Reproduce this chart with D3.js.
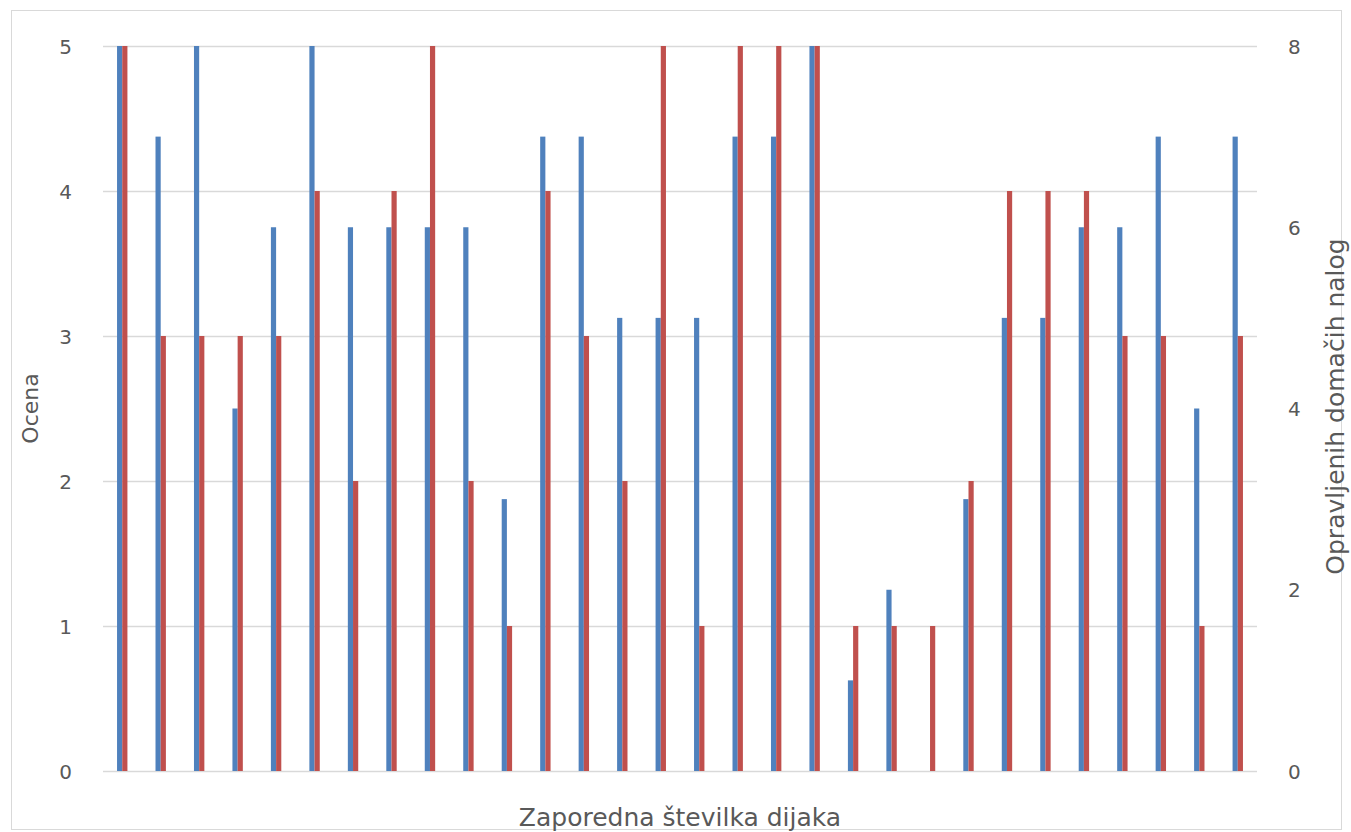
<!DOCTYPE html>
<html>
<head>
<meta charset="utf-8">
<script src="https://cdn.jsdelivr.net/npm/d3@7"></script>
<style>
  body { margin: 0; background: #fff; }
  svg { display: block; }
  text { font-family: "DejaVu Sans", "Open Sans", sans-serif; fill: #595959; }
</style>
</head>
<body>
<svg id="chart" width="1351" height="832"></svg>
<script>
// Data
const students = d3.range(1, 31).map(String);
const homework = [8, 7, 8, 4, 6, 8, 6, 6, 6, 6, 3, 7, 7, 5, 5, 5, 7, 7, 8, 1, 2, 0, 3, 5, 5, 6, 6, 7, 4, 7];
const grades   = [5, 3, 3, 3, 3, 4, 2, 4, 5, 2, 1, 4, 3, 2, 5, 1, 5, 5, 5, 1, 1, 1, 2, 4, 4, 4, 3, 3, 1, 3];
const leftTicks = [0, 1, 2, 3, 4, 5];
const rightTicks = [0, 2, 4, 6, 8];
const leftTitle = "Ocena";
const rightTitle = "Opravljenih domačih nalog";
const xTitle = "Zaporedna številka dijaka";

const svg = d3.select("#chart");
const plot = { left: 103, right: 1257, top: 46, bottom: 771 };

// chart border
svg.append("rect")
  .attr("x", 11.5).attr("y", 10.5)
  .attr("width", 1330).attr("height", 819)
  .attr("fill", "#fff").attr("stroke", "#d9d9d9").attr("stroke-width", 1);

const x = d3.scaleBand().domain(students).range([plot.left, plot.right]).padding(0);
const yL = d3.scaleLinear().domain([0, 5]).range([plot.bottom, plot.top]);
const yR = d3.scaleLinear().domain([0, 8]).range([plot.bottom, plot.top]);
const bw = x.bandwidth() * 0.135;

// gridlines
svg.append("g").selectAll("line").data(leftTicks).join("line")
  .attr("x1", plot.left).attr("x2", plot.right)
  .attr("y1", d => Math.round(yL(d)) + 0.5).attr("y2", d => Math.round(yL(d)) + 0.5)
  .attr("stroke", "#d9d9d9").attr("stroke-width", 1.5);

// blue bars (homework, right axis)
svg.append("g").selectAll("rect").data(homework).join("rect")
  .attr("x", (d, i) => x(students[i]) + x.bandwidth() / 2 - bw)
  .attr("width", bw)
  .attr("y", d => yR(d))
  .attr("height", d => plot.bottom - yR(d))
  .attr("fill", "#4f81bd");

// red bars (grade, left axis)
svg.append("g").selectAll("rect").data(grades).join("rect")
  .attr("x", (d, i) => x(students[i]) + x.bandwidth() / 2)
  .attr("width", bw)
  .attr("y", d => yL(d))
  .attr("height", d => plot.bottom - yL(d))
  .attr("fill", "#c0504d");

// left axis
const axL = svg.append("g").attr("transform", `translate(72,0)`)
  .call(d3.axisLeft(yL).tickValues(leftTicks).tickFormat(d3.format("d")).tickSize(0).tickPadding(0));
axL.select(".domain").remove();
axL.selectAll("text").style("font-size", "20px").attr("fill", "#595959").attr("dy", "0.36em");

// right axis
const axR = svg.append("g").attr("transform", `translate(1288,0)`)
  .call(d3.axisRight(yR).tickValues(rightTicks).tickFormat(d3.format("d")).tickSize(0).tickPadding(0));
axR.select(".domain").remove();
axR.selectAll("text").style("font-size", "20px").attr("fill", "#595959").attr("dy", "0.36em");

// titles
svg.append("text")
  .attr("transform", `translate(30,${(plot.top + plot.bottom) / 2}) rotate(-90)`)
  .attr("text-anchor", "middle").attr("dy", "0.35em").style("font-size", "22px").text(leftTitle);
svg.append("text")
  .attr("transform", `translate(1335,${(plot.top + plot.bottom) / 2 - 2}) rotate(-90)`)
  .attr("text-anchor", "middle").attr("dy", "0.35em").style("font-size", "25px").text(rightTitle);
svg.append("text")
  .attr("x", 680).attr("y", 826)
  .attr("text-anchor", "middle").style("font-size", "25px").text(xTitle);
</script>
</body>
</html>
